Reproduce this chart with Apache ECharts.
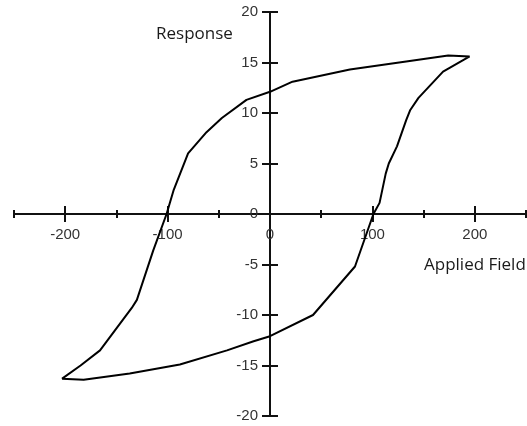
<!DOCTYPE html>
<html>
<head>
<meta charset="utf-8">
<script src="https://cdn.jsdelivr.net/npm/echarts@6/dist/echarts.min.js"></script>
<style>
  html, body { margin: 0; padding: 0; background: #fff; }
  #chart { width: 527px; height: 426px; }
</style>
</head>
<body>
<div id="chart"></div>
<script>
// Descending branch: from positive saturation back to negative saturation
const descField    = [195, 174, 133, 78, 22, 0, -23, -47, -62, -80, -94, -101, -114, -130, -135, -166, -185, -203];
const descResponse = [15.6, 15.7, 15.1, 14.3, 13.1, 12.1, 11.3, 9.5, 8.1, 6.0, 2.4, 0, -3.6, -8.5, -9.3, -13.5, -15.0, -16.3];
// Ascending branch: from negative saturation up to positive saturation
const ascField     = [-203, -182, -137, -88, -42, -16, 0, 42, 83, 101, 107, 113, 116, 124, 133, 137, 145, 169, 195];
const ascResponse  = [-16.3, -16.4, -15.8, -14.9, -13.5, -12.6, -12.1, -10.0, -5.2, 0, 1.1, 4.0, 5.0, 6.7, 9.3, 10.3, 11.5, 14.1, 15.6];

// Axis ticks and labels
const xMajorTicks = [-200, -100, 0, 100, 200];
const xMinorTicks = [-250, -150, -50, 50, 150, 250];
const yTicks = [-20, -15, -10, -5, 0, 5, 10, 15, 20];

const loop = [];
descField.forEach((x, i) => loop.push([x, descResponse[i]]));
ascField.forEach((x, i) => loop.push([x, ascResponse[i]]));

const AXIS_COLOR = '#111';
const LABEL_FONT = { fontFamily: 'Liberation Sans', fontSize: 15, color: '#333' };
const X_RANGE = { min: -250, max: 250, interval: 50 };
const Y_RANGE = { min: -20, max: 20, interval: 5 };

// Axis lines and crossing ticks sit on the origin (one axis per tick side)
function xTickAxis(position, ticks, len, line) {
  return Object.assign({
    type: 'value', position: position,
    axisLine: { show: line, onZero: true, onZeroAxisIndex: 0, lineStyle: { color: AXIS_COLOR, width: 2 } },
    axisTick: { show: true, customValues: ticks, length: len, lineStyle: { color: AXIS_COLOR, width: 2 } },
    axisLabel: { show: false },
    splitLine: { show: false }
  }, X_RANGE);
}
function yTickAxis(position, line) {
  return Object.assign({
    type: 'value', position: position,
    axisLine: { show: line, onZero: true, onZeroAxisIndex: 0, lineStyle: { color: AXIS_COLOR, width: 2 } },
    axisTick: { show: true, customValues: yTicks, length: 8, lineStyle: { color: AXIS_COLOR, width: 2 } },
    axisLabel: { show: false },
    splitLine: { show: false }
  }, Y_RANGE);
}
// Label-only axes, shifted onto the origin once the grid is laid out
function xLabelAxis() {
  return Object.assign({
    type: 'value', position: 'bottom', offset: 0,
    axisLine: { show: false, onZero: false },
    axisTick: { show: false },
    axisLabel: Object.assign({ show: true, customValues: xMajorTicks, margin: 13 }, LABEL_FONT),
    splitLine: { show: false }
  }, X_RANGE);
}
function yLabelAxis() {
  return Object.assign({
    type: 'value', position: 'left', offset: 0,
    axisLine: { show: false, onZero: false },
    axisTick: { show: false },
    axisLabel: Object.assign({ show: true, customValues: yTicks, margin: 12 }, LABEL_FONT),
    splitLine: { show: false }
  }, Y_RANGE);
}

const chart = echarts.init(document.getElementById('chart'), null, { renderer: 'canvas' });
chart.setOption({
  animation: false,
  backgroundColor: '#fff',
  grid: { left: 14, right: 1, top: 12, bottom: 10, outerBoundsMode: 'none' },
  xAxis: [
    xTickAxis('bottom', xMajorTicks, 8, true),
    xTickAxis('top', xMajorTicks, 8, false),
    xTickAxis('bottom', xMinorTicks, 4, false),
    xTickAxis('top', xMinorTicks, 4, false),
    xLabelAxis()
  ],
  yAxis: [
    yTickAxis('left', true),
    yTickAxis('right', false),
    yLabelAxis()
  ],
  graphic: [
    { type: 'text', left: 156, top: 26, style: { text: 'Response', font: '17px "Open Sans"', fill: '#1a1a1a' } },
    { type: 'text', left: 424, top: 257, style: { text: 'Applied Field', font: '17px "Open Sans"', fill: '#1a1a1a' } }
  ],
  series: [{
    type: 'line',
    xAxisIndex: 0, yAxisIndex: 0,
    data: loop,
    showSymbol: false,
    smooth: false,
    lineStyle: { color: '#000', width: 2 },
    z: 3
  }]
});

// Move the label axes onto the origin lines
const origin = chart.convertToPixel({ xAxisIndex: 0, yAxisIndex: 0 }, [0, 0]);
const rect = chart.getModel().getComponent('grid', 0).coordinateSystem.getRect();
chart.setOption({
  xAxis: [{}, {}, {}, {}, { offset: origin[1] - (rect.y + rect.height) }],
  yAxis: [{}, {}, { offset: rect.x - origin[0] }]
});
</script>
</body>
</html>
